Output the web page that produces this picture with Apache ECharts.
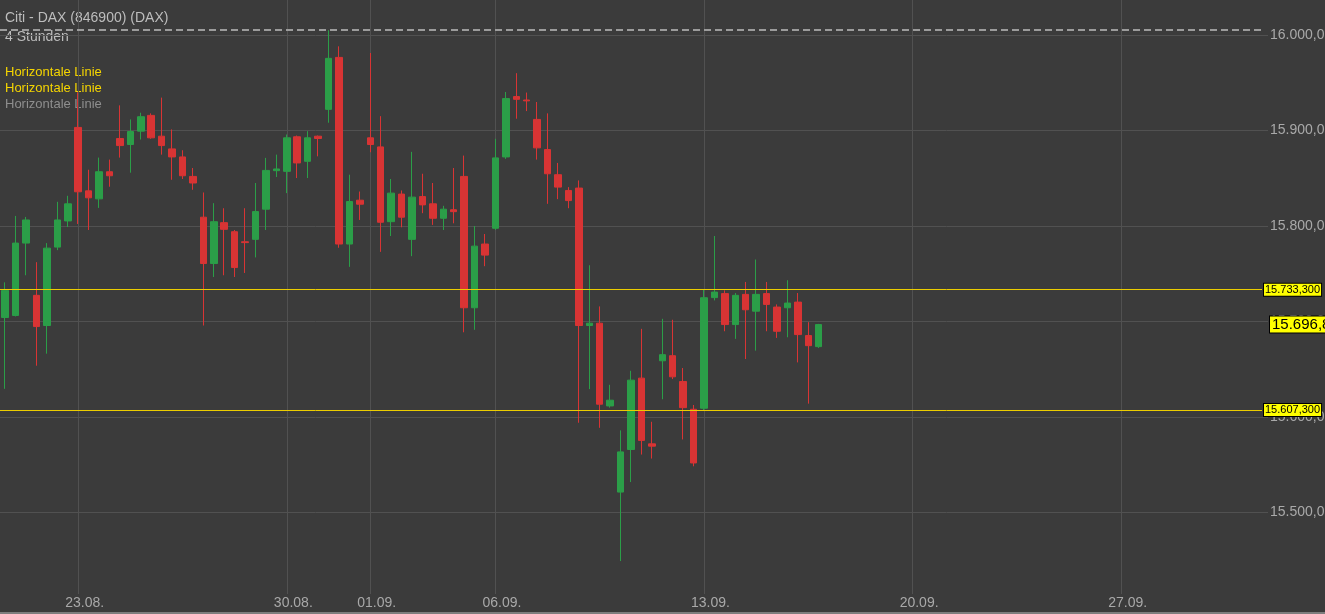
<!DOCTYPE html>
<html><head><meta charset="utf-8">
<script src="https://cdn.jsdelivr.net/npm/echarts@6/dist/echarts.min.js"></script>
<style>html,body{margin:0;padding:0;background:#3b3b3b;}#c{width:1325px;height:614px;}</style>
</head><body><div id="c"></div>
<script>
// ---- data ----
const dateTicks = ['23.08.', '30.08.', '01.09.', '06.09.', '13.09.', '20.09.', '27.09.'];
const dateTickSlots = [7, 27, 35, 47, 67, 87, 107];
const slotCount = 121;

const opens = [15704.2,15706.3,15782.1,15727.4,15695.8,15777.9,15805.3,15903.2,15836.8,15828.4,
  15856.8,15891.6,15885.3,15899.3,15915.8,15894.0,15880.7,15872.3,15851.9,15809.2,
  15760.7,15803.5,15794.0,15783.5,15786.0,15817.6,15857.9,15857.2,15893.4,15867.7,
  15894.0,15922.1,15976.5,15781.1,15827.0,15892.3,15882.8,15804.5,15833.4,15786.0,
  15830.8,15823.2,15808.1,15817.0,15851.9,15714.4,15781.1,15797.6,15872.3,15935.5,
  15931.9,15911.6,15880.0,15853.7,15837.2,15839.7,15695.8,15698.2,15611.6,15521.4,
  15566.0,15640.7,15571.9,15658.9,15664.2,15637.2,15608.1,15609.2,15725.0,15729.2,
  15696.8,15728.4,15710.8,15729.2,15715.1,15714.4,15720.3,15685.3,15673.7];
const closes = [15732.6,15782.1,15806.3,15694.7,15776.8,15806.3,15823.2,15835.8,15829.5,15856.8,
  15852.6,15884.2,15898.9,15914.4,15892.3,15884.2,15872.3,15852.6,15845.0,15760.7,
  15804.5,15796.5,15756.5,15782.6,15815.1,15858.2,15859.7,15892.3,15866.0,15892.3,
  15891.6,15975.5,15781.1,15825.6,15822.8,15885.3,15803.9,15834.4,15809.2,15830.2,
  15822.1,15808.1,15817.6,15815.0,15714.4,15778.9,15769.5,15871.3,15933.4,15932.6,
  15931.0,15881.8,15854.7,15840.7,15826.6,15695.8,15698.2,15613.4,15617.6,15563.5,
  15638.6,15575.5,15569.5,15665.3,15642.1,15609.8,15551.9,15724.9,15730.8,15696.8,
  15727.4,15712.3,15728.4,15717.9,15689.8,15719.3,15686.3,15674.7,15696.8];
const lows = [15629.5,15705.3,15748.4,15653.7,15666.3,15774.7,15798.9,15802.1,15795.8,15818.9,
  15841.1,15871.6,15855.8,15890.5,15891.3,15874.7,15848.4,15849.2,15837.9,15695.8,
  15746.6,15748.4,15746.6,15750.8,15767.1,15795.8,15851.3,15834.4,15850.2,15850.2,
  15872.9,15908.1,15777.2,15757.2,15806.3,15877.2,15772.9,15789.5,15798.6,15768.4,
  15813.4,15801.1,15795.8,15802.8,15688.7,15691.3,15757.9,15795.8,15870.2,15912.3,
  15920.3,15869.5,15823.2,15828.1,15818.6,15594.0,15629.2,15588.7,15609.8,15449.2,
  15531.9,15560.7,15556.5,15618.6,15639.7,15576.5,15548.4,15607.1,15722.1,15689.8,
  15681.8,15660.7,15669.5,15689.8,15682.8,15683.5,15657.2,15614.0,15672.3];
const highs = [15741.0,15810.5,15809.5,15762.1,15782.1,15825.3,15831.6,15940.0,15858.9,15871.6,
  15869.5,15926.3,15911.6,15918.6,15917.9,15934.4,15901.1,15879.3,15860.7,15835.1,
  15823.9,15818.6,15795.8,15818.6,15845.0,15871.3,15874.7,15895.8,15894.7,15899.3,
  15894.7,16005.0,15988.1,15853.7,15836.1,15981.1,15915.0,15849.2,15837.2,15877.6,
  15854.7,15845.0,15821.1,15860.7,15873.7,15800.0,15791.6,15891.3,15940.3,15960.0,
  15939.7,15929.8,15917.9,15866.0,15840.7,15847.7,15758.9,15715.8,15633.7,15586.0,
  15648.4,15692.3,15595.0,15702.8,15701.8,15651.3,15612.6,15733.4,15789.5,15732.6,
  15729.8,15741.4,15764.9,15741.4,15717.9,15743.2,15729.8,15699.3,15697.5];

const horizontalLines = [15733.3, 15607.3];
const yTicks = [15500, 15600, 15700, 15800, 15900, 16000];

// ---- helpers ----
function de(v, d) {
  const parts = v.toFixed(d).split('.');
  const ip = parts[0].replace(/\B(?=(\d{3})+$)/g, '.');
  return parts[1] ? ip + ',' + parts[1] : ip;
}

const categories = [];
for (let i = 0; i < slotCount; i++) {
  const k = dateTickSlots.indexOf(i);
  categories.push(k >= 0 ? dateTicks[k] : '');
}
const isTick = (i) => dateTickSlots.indexOf(i) >= 0;
const candles = opens.map((o, i) => [o, closes[i], lows[i], highs[i]]);
const lastClose = closes[closes.length - 1];
const periodHigh = Math.max.apply(null, highs);

const GRID = '#515151';
const UP = '#2b9e48';
const DOWN = '#d83434';
const YEL = '#eccd00';
const FONT = '"Liberation Sans", Arial, sans-serif';

const hLineSeries = horizontalLines.map(v => ({
  type: 'line',
  data: [],
  silent: true,
  color: YEL,
  markLine: {
    symbol: ['none', 'none'],
    silent: true,
    animation: false,
    lineStyle: {color: YEL, type: 'solid', width: 1},
    label: {show: true, position: 'end', distance: 2, formatter: de(v, 3),
      color: '#000', fontSize: 11, lineHeight: 11, fontFamily: FONT, backgroundColor: '#ffff00',
      borderColor: '#000', borderWidth: 1, padding: [1, 1, 0, 1]},
    data: [{yAxis: v}]
  }
}));

const chart = echarts.init(document.getElementById('c'), null, {renderer: 'canvas'});
chart.setOption({
  backgroundColor: '#3b3b3b',
  animation: false,
  grid: {left: 0, right: 63, top: 0, bottom: 20, outerBoundsMode: 'none', containLabel: false},
  xAxis: {
    type: 'category',
    data: categories,
    boundaryGap: true,
    axisLine: {show: false},
    axisTick: {show: false},
    axisLabel: {
      interval: (i) => isTick(i),
      color: '#a9a9a9', fontSize: 14, fontFamily: FONT,
      margin: 2, padding: [0, 0, 0, 13]
    },
    splitLine: {show: true, interval: (i) => isTick(i), alignWithLabel: true,
      lineStyle: {color: GRID, width: 1}}
  },
  yAxis: {
    type: 'value',
    position: 'right',
    min: 15414.7,
    max: 16036.6,
    scale: true,
    axisLine: {show: false},
    axisTick: {show: true, length: 6, customValues: yTicks, lineStyle: {color: GRID}},
    axisLabel: {customValues: yTicks, color: '#a9a9a9', fontSize: 14, fontFamily: FONT,
      margin: 8, formatter: (v) => de(v, 1)},
    splitLine: {show: true, lineStyle: {color: GRID, width: 1}}
  },
  graphic: [
    {type: 'text', left: 5, top: 11, style: {text: 'Citi - DAX (846900) (DAX)', fill: '#bdbdbd', font: '14px ' + FONT}},
    {type: 'text', left: 5, top: 30, style: {text: '4 Stunden', fill: '#bdbdbd', font: '14px ' + FONT}},
    {type: 'text', left: 5, top: 66, style: {text: 'Horizontale Linie', fill: '#f5d500', font: '13px ' + FONT}},
    {type: 'text', left: 5, top: 82, style: {text: 'Horizontale Linie', fill: '#f5d500', font: '13px ' + FONT}},
    {type: 'text', left: 5, top: 98, style: {text: 'Horizontale Linie', fill: '#8e8e8e', font: '13px ' + FONT}},
    {type: 'rect', left: 0, bottom: 0, shape: {width: 1325, height: 2}, style: {fill: '#7d7d7d'}}
  ],
  series: [{
    type: 'candlestick',
    data: candles,
    barWidth: 7,
    itemStyle: {color: UP, color0: DOWN, borderColor: UP, borderColor0: DOWN, borderWidth: 1},
    markLine: {
      symbol: ['none', 'none'],
      silent: true,
      animation: false,
      data: [
        {yAxis: periodHigh, lineStyle: {color: '#9c9c9c', type: [7, 4], width: 2}, label: {show: false}},
        {yAxis: lastClose, lineStyle: {color: 'rgba(0,0,0,0)', width: 1, type: 'solid'},
          label: {show: true, position: 'end', distance: 8, formatter: de(lastClose, 1),
            color: '#000', fontSize: 15, lineHeight: 15, fontFamily: FONT, backgroundColor: '#ffff00',
            borderColor: '#000', borderWidth: 1, padding: [1, 6, 0, 2]}}
      ]
    }
  }].concat(hLineSeries)
});
</script>
</body></html>
